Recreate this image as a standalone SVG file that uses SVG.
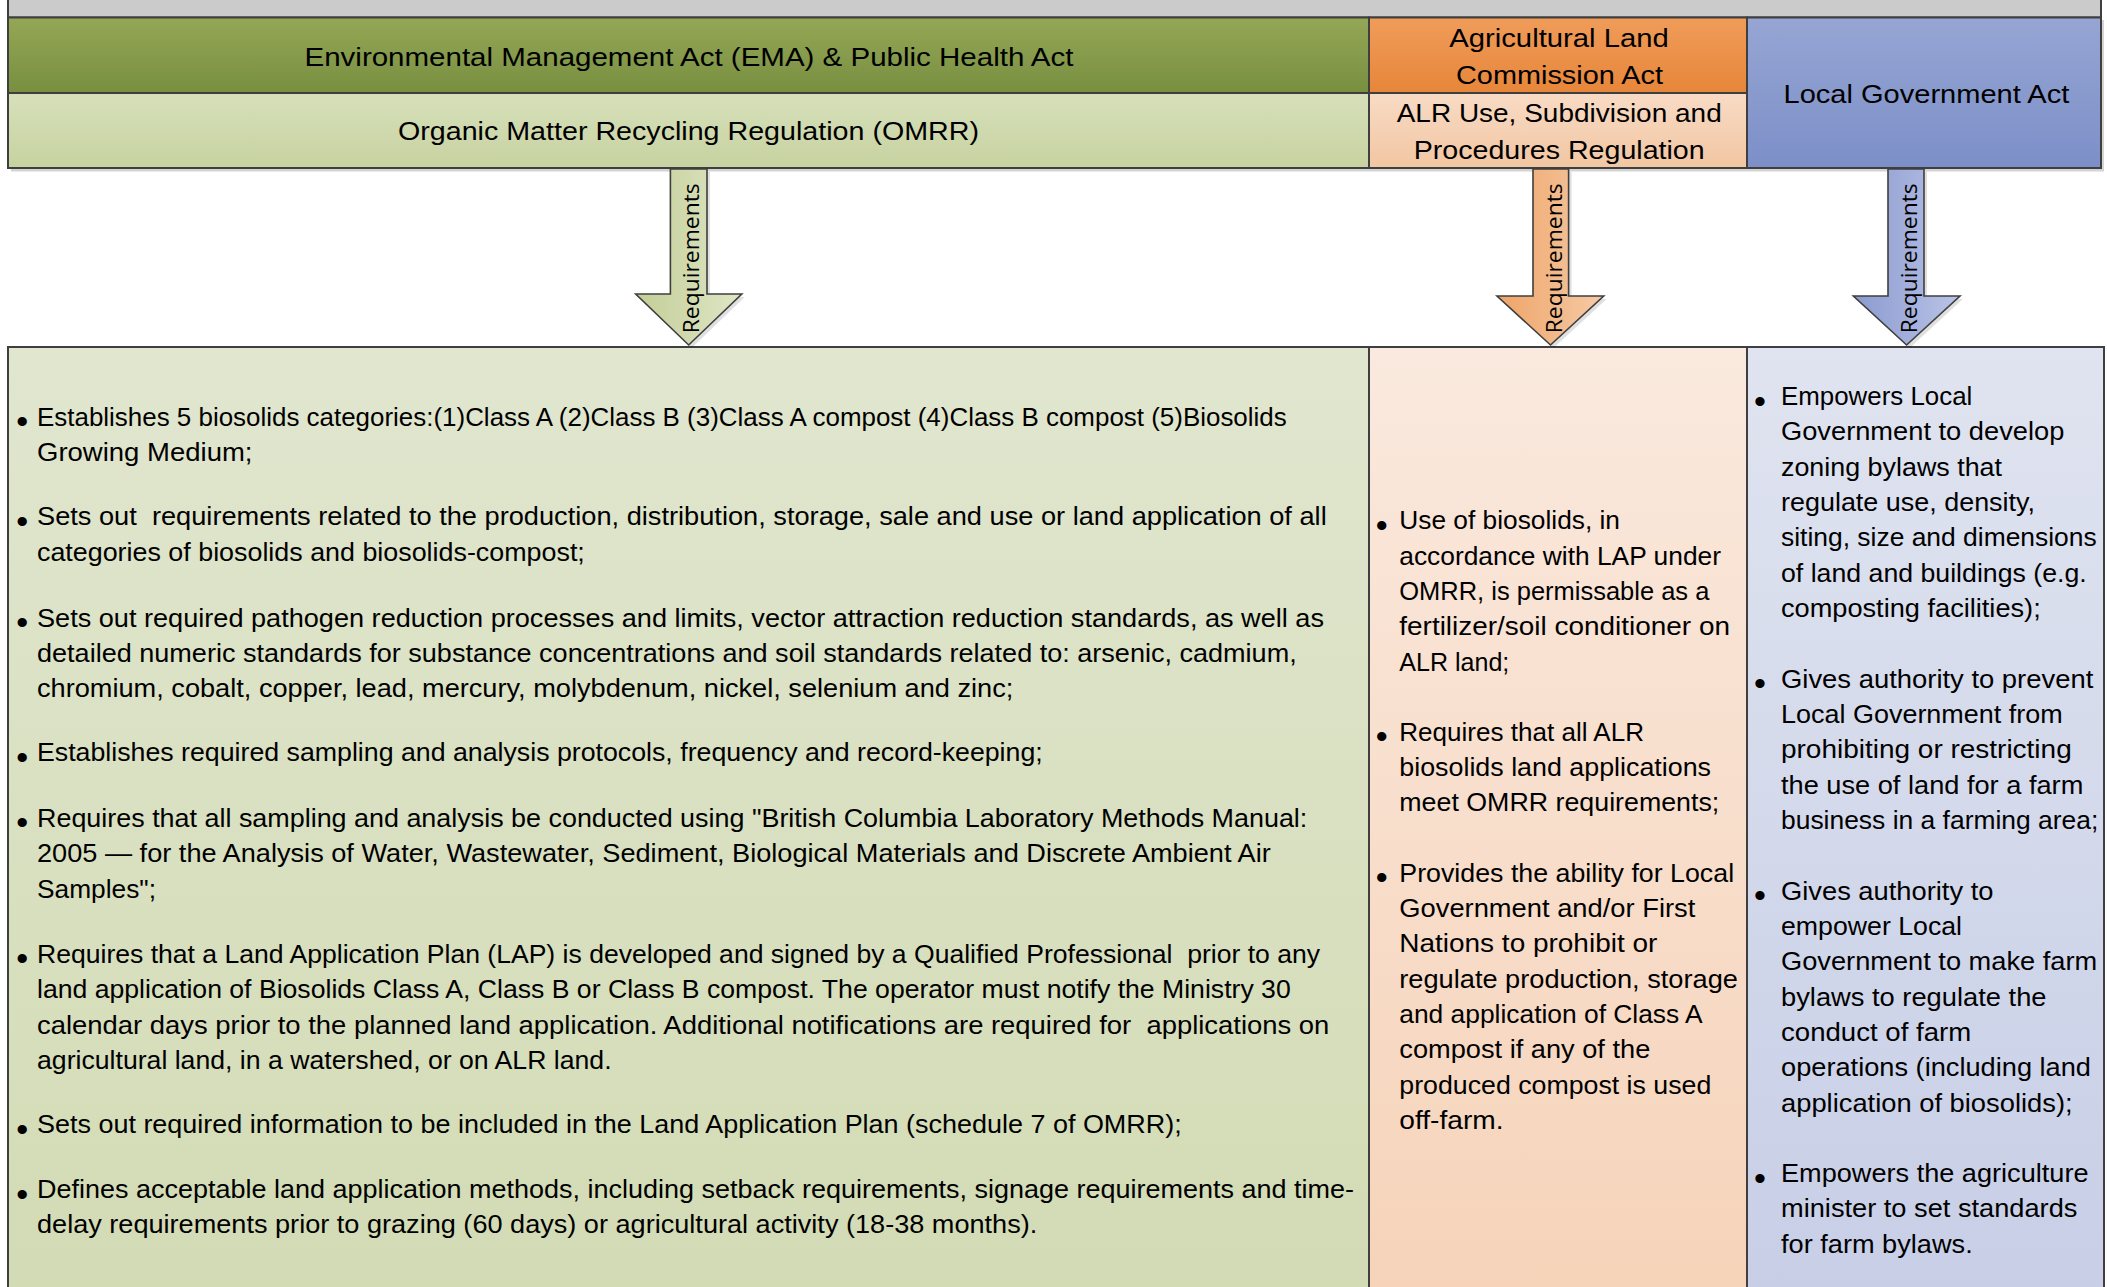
<svg xmlns="http://www.w3.org/2000/svg" width="2107" height="1287" viewBox="0 0 2107 1287">
<defs>
<linearGradient id="gHdr" x1="0" y1="0" x2="0" y2="1"><stop offset="0" stop-color="#94a756"/><stop offset="1" stop-color="#788f40"/></linearGradient>
<linearGradient id="gSub" x1="0" y1="0" x2="0" y2="1"><stop offset="0" stop-color="#d7e0ba"/><stop offset="1" stop-color="#c7d2a1"/></linearGradient>
<linearGradient id="oHdr" x1="0" y1="0" x2="0" y2="1"><stop offset="0" stop-color="#f09c5a"/><stop offset="1" stop-color="#e7863a"/></linearGradient>
<linearGradient id="oSub" x1="0" y1="0" x2="0" y2="1"><stop offset="0" stop-color="#f8dbc5"/><stop offset="1" stop-color="#f2c6a2"/></linearGradient>
<linearGradient id="bHdr" x1="0" y1="0" x2="0" y2="1"><stop offset="0" stop-color="#96a5d3"/><stop offset="1" stop-color="#7c8fc8"/></linearGradient>
<linearGradient id="gBody" x1="0" y1="0" x2="0" y2="1"><stop offset="0" stop-color="#e1e6cf"/><stop offset="1" stop-color="#d2dbb4"/></linearGradient>
<linearGradient id="oBody" x1="0" y1="0" x2="0" y2="1"><stop offset="0" stop-color="#fae9de"/><stop offset="1" stop-color="#f6d3b9"/></linearGradient>
<linearGradient id="bBody" x1="0" y1="0" x2="0" y2="1"><stop offset="0" stop-color="#e0e4f0"/><stop offset="1" stop-color="#c7cee6"/></linearGradient>
<linearGradient id="gArr" x1="0" y1="0" x2="1" y2="0"><stop offset="0" stop-color="#c3ce97"/><stop offset="1" stop-color="#dfe6c6"/></linearGradient>
<linearGradient id="oArr" x1="0" y1="0" x2="1" y2="0"><stop offset="0" stop-color="#eea468"/><stop offset="1" stop-color="#f6caa6"/></linearGradient>
<linearGradient id="bArr" x1="0" y1="0" x2="1" y2="0"><stop offset="0" stop-color="#8b9ad0"/><stop offset="1" stop-color="#bac4e6"/></linearGradient>
<style>
.box{stroke:#3f3f3f;stroke-width:2}
.shadow{fill:#d4d4d4}
.arrow{stroke:#3f3f3f;stroke-width:1.6;stroke-linejoin:miter}
.h{font-family:"Liberation Sans",Arial,sans-serif;font-size:26px;fill:#000;text-anchor:middle}
.t{font-family:"Liberation Sans",Arial,sans-serif;font-size:25px;fill:#000;white-space:pre}
.bu{font-family:"Liberation Sans",Arial,sans-serif;font-size:34px;fill:#000;text-anchor:middle}
.lbl{font-family:"Open Sans","DejaVu Sans",sans-serif;font-size:22px;fill:#000;text-anchor:middle}
</style>
</defs>
<rect width="2107" height="1287" fill="#ffffff"/>

<g id="top-band">
<rect class="box" x="8" y="-5" width="2093" height="22.5" fill="#cbcbcb"/>
</g>

<!-- header shadow -->
<rect class="shadow" x="11" y="20" width="2093" height="151.5"/>

<g id="ema-header">
<rect class="box" x="8" y="17.5" width="1361" height="75.5" fill="url(#gHdr)"/>
<text class="h" x="689" y="65.5" textLength="769" lengthAdjust="spacingAndGlyphs">Environmental Management Act (EMA) &amp; Public Health Act</text>
</g>
<g id="omrr-header">
<rect class="box" x="8" y="93" width="1361" height="75" fill="url(#gSub)"/>
<text class="h" x="688.5" y="140" textLength="581" lengthAdjust="spacingAndGlyphs">Organic Matter Recycling Regulation (OMRR)</text>
</g>
<g id="alc-header">
<rect class="box" x="1369" y="17.5" width="378" height="75.5" fill="url(#oHdr)"/>
<text class="h" x="1559" y="47" textLength="219.6" lengthAdjust="spacingAndGlyphs">Agricultural Land</text>
<text class="h" x="1559.5" y="84" textLength="207" lengthAdjust="spacingAndGlyphs">Commission Act</text>
</g>
<g id="alr-header">
<rect class="box" x="1369" y="93" width="378" height="75" fill="url(#oSub)"/>
<text class="h" x="1559.2" y="121.5" textLength="325" lengthAdjust="spacingAndGlyphs">ALR Use, Subdivision and</text>
<text class="h" x="1559.2" y="159.2" textLength="291" lengthAdjust="spacingAndGlyphs">Procedures Regulation</text>
</g>
<g id="lga-header">
<rect class="box" x="1747" y="17.5" width="354" height="150.5" fill="url(#bHdr)"/>
<text class="h" x="1926.4" y="102.5" textLength="285.8" lengthAdjust="spacingAndGlyphs">Local Government Act</text>
</g>

<g id="omrr-body">
<rect class="box" x="8" y="347" width="1361" height="960" fill="url(#gBody)"/>
<text class="bu" x="22.3" y="433">•</text>
<text class="t" x="37" y="425.5" textLength="1249.7" lengthAdjust="spacingAndGlyphs">Establishes 5 biosolids categories:(1)Class A (2)Class B (3)Class A compost (4)Class B compost (5)Biosolids</text>
<text class="t" x="37" y="460.7" textLength="215.5" lengthAdjust="spacingAndGlyphs">Growing Medium;</text>
<text class="bu" x="22.3" y="532.5">•</text>
<text class="t" x="37" y="525" textLength="1289.7" lengthAdjust="spacingAndGlyphs">Sets out  requirements related to the production, distribution, storage, sale and use or land application of all</text>
<text class="t" x="37" y="560.5" textLength="547.8" lengthAdjust="spacingAndGlyphs">categories of biosolids and biosolids-compost;</text>
<text class="bu" x="22.3" y="634">•</text>
<text class="t" x="37" y="626.5" textLength="1287" lengthAdjust="spacingAndGlyphs">Sets out required pathogen reduction processes and limits, vector attraction reduction standards, as well as</text>
<text class="t" x="37" y="661.5" textLength="1259.7" lengthAdjust="spacingAndGlyphs">detailed numeric standards for substance concentrations and soil standards related to: arsenic, cadmium,</text>
<text class="t" x="37" y="696.7" textLength="976.3" lengthAdjust="spacingAndGlyphs">chromium, cobalt, copper, lead, mercury, molybdenum, nickel, selenium and zinc;</text>
<text class="bu" x="22.3" y="768.7">•</text>
<text class="t" x="37" y="761.2" textLength="1005.7" lengthAdjust="spacingAndGlyphs">Establishes required sampling and analysis protocols, frequency and record-keeping;</text>
<text class="bu" x="22.3" y="834.2">•</text>
<text class="t" x="37" y="826.7" textLength="1270.3" lengthAdjust="spacingAndGlyphs">Requires that all sampling and analysis be conducted using "British Columbia Laboratory Methods Manual:</text>
<text class="t" x="37" y="862" textLength="1233.7" lengthAdjust="spacingAndGlyphs">2005 — for the Analysis of Water, Wastewater, Sediment, Biological Materials and Discrete Ambient Air</text>
<text class="t" x="37" y="897.5" textLength="119" lengthAdjust="spacingAndGlyphs">Samples";</text>
<text class="bu" x="22.3" y="970">•</text>
<text class="t" x="37" y="962.5" textLength="1283" lengthAdjust="spacingAndGlyphs">Requires that a Land Application Plan (LAP) is developed and signed by a Qualified Professional  prior to any</text>
<text class="t" x="37" y="998" textLength="1253.7" lengthAdjust="spacingAndGlyphs">land application of Biosolids Class A, Class B or Class B compost. The operator must notify the Ministry 30</text>
<text class="t" x="37" y="1033.8" textLength="1292.3" lengthAdjust="spacingAndGlyphs">calendar days prior to the planned land application. Additional notifications are required for  applications on</text>
<text class="t" x="37" y="1068.5" textLength="574.6" lengthAdjust="spacingAndGlyphs">agricultural land, in a watershed, or on ALR land.</text>
<text class="bu" x="22.3" y="1140.8">•</text>
<text class="t" x="37" y="1133.3" textLength="1144.7" lengthAdjust="spacingAndGlyphs">Sets out required information to be included in the Land Application Plan (schedule 7 of OMRR);</text>
<text class="bu" x="22.3" y="1205.8">•</text>
<text class="t" x="37" y="1198.3" textLength="1317" lengthAdjust="spacingAndGlyphs">Defines acceptable land application methods, including setback requirements, signage requirements and time-</text>
<text class="t" x="37" y="1233.3" textLength="1000.3" lengthAdjust="spacingAndGlyphs">delay requirements prior to grazing (60 days) or agricultural activity (18-38 months).</text>
</g>

<g id="alr-body">
<rect class="box" x="1369" y="347" width="378" height="960" fill="url(#oBody)"/>
<text class="bu" x="1381.7" y="536.8">•</text>
<text class="t" x="1399.3" y="529.3" textLength="220.7" lengthAdjust="spacingAndGlyphs">Use of biosolids, in</text>
<text class="t" x="1399.3" y="564.6" textLength="321.7" lengthAdjust="spacingAndGlyphs">accordance with LAP under</text>
<text class="t" x="1399.3" y="600" textLength="310" lengthAdjust="spacingAndGlyphs">OMRR, is permissable as a</text>
<text class="t" x="1399.3" y="635.3" textLength="330.7" lengthAdjust="spacingAndGlyphs">fertilizer/soil conditioner on</text>
<text class="t" x="1399.3" y="670.6" textLength="110" lengthAdjust="spacingAndGlyphs">ALR land;</text>
<text class="bu" x="1381.7" y="748">•</text>
<text class="t" x="1399.3" y="740.5" textLength="244.7" lengthAdjust="spacingAndGlyphs">Requires that all ALR</text>
<text class="t" x="1399.3" y="775.8" textLength="311.7" lengthAdjust="spacingAndGlyphs">biosolids land applications</text>
<text class="t" x="1399.3" y="811.2" textLength="320" lengthAdjust="spacingAndGlyphs">meet OMRR requirements;</text>
<text class="bu" x="1381.7" y="889">•</text>
<text class="t" x="1399.3" y="881.5" textLength="334.8" lengthAdjust="spacingAndGlyphs">Provides the ability for Local</text>
<text class="t" x="1399.3" y="916.8" textLength="296" lengthAdjust="spacingAndGlyphs">Government and/or First</text>
<text class="t" x="1399.3" y="952.2" textLength="258" lengthAdjust="spacingAndGlyphs">Nations to prohibit or</text>
<text class="t" x="1399.3" y="987.5" textLength="338.6" lengthAdjust="spacingAndGlyphs">regulate production, storage</text>
<text class="t" x="1399.3" y="1022.8" textLength="303.4" lengthAdjust="spacingAndGlyphs">and application of Class A</text>
<text class="t" x="1399.3" y="1058.2" textLength="251" lengthAdjust="spacingAndGlyphs">compost if any of the</text>
<text class="t" x="1399.3" y="1093.5" textLength="312" lengthAdjust="spacingAndGlyphs">produced compost is used</text>
<text class="t" x="1399.3" y="1128.8" textLength="104.3" lengthAdjust="spacingAndGlyphs">off-farm.</text>
</g>

<g id="lga-body">
<rect class="box" x="1747" y="347" width="357" height="960" fill="url(#bBody)"/>
<text class="bu" x="1760" y="412.5">•</text>
<text class="t" x="1781" y="405" textLength="191.3" lengthAdjust="spacingAndGlyphs">Empowers Local</text>
<text class="t" x="1781" y="440.3" textLength="283.3" lengthAdjust="spacingAndGlyphs">Government to develop</text>
<text class="t" x="1781" y="475.7" textLength="221" lengthAdjust="spacingAndGlyphs">zoning bylaws that</text>
<text class="t" x="1781" y="511" textLength="254" lengthAdjust="spacingAndGlyphs">regulate use, density,</text>
<text class="t" x="1781" y="546.3" textLength="315.7" lengthAdjust="spacingAndGlyphs">siting, size and dimensions</text>
<text class="t" x="1781" y="581.7" textLength="305.7" lengthAdjust="spacingAndGlyphs">of land and buildings (e.g.</text>
<text class="t" x="1781" y="617" textLength="259.7" lengthAdjust="spacingAndGlyphs">composting facilities);</text>
<text class="bu" x="1760" y="695">•</text>
<text class="t" x="1781" y="687.5" textLength="312.3" lengthAdjust="spacingAndGlyphs">Gives authority to prevent</text>
<text class="t" x="1781" y="722.8" textLength="281.7" lengthAdjust="spacingAndGlyphs">Local Government from</text>
<text class="t" x="1781" y="758.2" textLength="290.7" lengthAdjust="spacingAndGlyphs">prohibiting or restricting</text>
<text class="t" x="1781" y="793.5" textLength="302.3" lengthAdjust="spacingAndGlyphs">the use of land for a farm</text>
<text class="t" x="1781" y="828.8" textLength="317.3" lengthAdjust="spacingAndGlyphs">business in a farming area;</text>
<text class="bu" x="1760" y="907">•</text>
<text class="t" x="1781" y="899.5" textLength="212.4" lengthAdjust="spacingAndGlyphs">Gives authority to</text>
<text class="t" x="1781" y="934.8" textLength="181" lengthAdjust="spacingAndGlyphs">empower Local</text>
<text class="t" x="1781" y="970.2" textLength="316.2" lengthAdjust="spacingAndGlyphs">Government to make farm</text>
<text class="t" x="1781" y="1005.5" textLength="265.5" lengthAdjust="spacingAndGlyphs">bylaws to regulate the</text>
<text class="t" x="1781" y="1040.8" textLength="190.2" lengthAdjust="spacingAndGlyphs">conduct of farm</text>
<text class="t" x="1781" y="1076.2" textLength="310" lengthAdjust="spacingAndGlyphs">operations (including land</text>
<text class="t" x="1781" y="1111.5" textLength="291.6" lengthAdjust="spacingAndGlyphs">application of biosolids);</text>
<text class="bu" x="1760" y="1189.5">•</text>
<text class="t" x="1781" y="1182" textLength="307.5" lengthAdjust="spacingAndGlyphs">Empowers the agriculture</text>
<text class="t" x="1781" y="1217.3" textLength="296.4" lengthAdjust="spacingAndGlyphs">minister to set standards</text>
<text class="t" x="1781" y="1252.7" textLength="191.7" lengthAdjust="spacingAndGlyphs">for farm bylaws.</text>
</g>

<g id="connectors">
<g id="arrow-omrr">
<polygon points="673.4,172 710,172 710,297 744.8,297 691.7,348 638.7,297 673.4,297" fill="#000" opacity="0.12"/>
<polygon class="arrow" points="670.4,169 707,169 707,294 741.8,294 688.7,345 635.7,294 670.4,294" fill="url(#gArr)"/>
<text class="lbl" transform="translate(699 258.3) rotate(-90)" textLength="150" lengthAdjust="spacingAndGlyphs">Requirements</text>
</g>
<g id="arrow-alr">
<polygon points="1536,172 1571.6,172 1571.6,299 1606.7,299 1553.5,348 1500,299 1536,299" fill="#000" opacity="0.12"/>
<polygon class="arrow" points="1533,169 1568.6,169 1568.6,296 1603.7,296 1550.5,345 1497,296 1533,296" fill="url(#oArr)"/>
<text class="lbl" transform="translate(1561.5 258.3) rotate(-90)" textLength="150" lengthAdjust="spacingAndGlyphs">Requirements</text>
</g>
<g id="arrow-lga">
<polygon points="1891,172 1927,172 1927,299 1963,299 1909.6,348 1856.4,299 1891,299" fill="#000" opacity="0.12"/>
<polygon class="arrow" points="1888,169 1924,169 1924,296 1960,296 1906.6,345 1853.4,296 1888,296" fill="url(#bArr)"/>
<text class="lbl" transform="translate(1916.5 258.3) rotate(-90)" textLength="150" lengthAdjust="spacingAndGlyphs">Requirements</text>
</g>
</g>
</svg>
